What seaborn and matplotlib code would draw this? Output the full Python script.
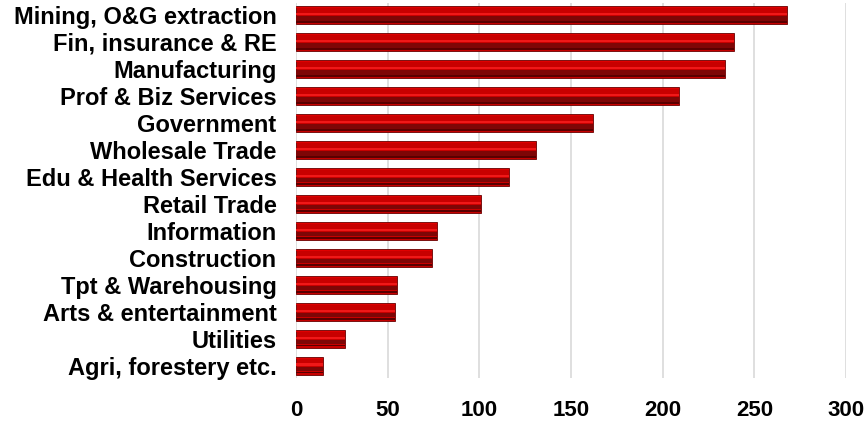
import numpy as np
import pandas as pd
import matplotlib.pyplot as plt
import seaborn as sns

sectors = ['Mining, O&G extraction', 'Fin, insurance & RE', 'Manufacturing',
           'Prof & Biz Services', 'Government', 'Wholesale Trade',
           'Edu & Health Services', 'Retail Trade', 'Information',
           'Construction', 'Tpt & Warehousing', 'Arts & entertainment',
           'Utilities', 'Agri, forestery etc.']
values = [268, 239, 234, 209, 162, 131, 116, 101, 77, 74, 55, 54, 27, 15]

df = pd.DataFrame({'sector': sectors, 'value': values})

sns.set_style('white')
plt.rcParams['font.family'] = ['Liberation Sans', 'DejaVu Sans']

fig = plt.figure(figsize=(8.67, 4.21), dpi=100)
ax = fig.add_axes([0.3414, 0.102, 0.6344, 0.891])

sns.barplot(data=df, x='value', y='sector', color='#c80000', width=0.66,
            saturation=1, edgecolor='#6a0000', linewidth=0.6, ax=ax, zorder=3)

# bevel shading on each bar
pos = np.arange(len(sectors))
vals = np.array(values, dtype=float)
ax.barh(pos + 0.13, vals, height=0.16, color='#7e0606', linewidth=0, zorder=4)
ax.barh(pos + 0.255, vals, height=0.07, color='#5a0000', linewidth=0, zorder=4)
ax.barh(pos - 0.04, vals, height=0.08, color='#f01818', linewidth=0, zorder=4)
ax.barh(pos - 0.27, vals, height=0.06, color='#e00000', linewidth=0, zorder=4)

ax.set_xlim(0, 300)
ax.set_ylim(13.46, -0.445)
ax.set_xticks([0, 50, 100, 150, 200, 250, 300])
ax.xaxis.grid(True, color='#d9d9d9', linewidth=1.2, zorder=0)
ax.set_axisbelow(True)
for s in ax.spines.values():
    s.set_visible(False)
ax.tick_params(axis='both', length=0, labelcolor='black')
ax.tick_params(axis='x', pad=16)
ax.tick_params(axis='y', pad=14)
ax.set_xlabel('')
ax.set_ylabel('')
for lab in ax.get_xticklabels():
    lab.set_fontweight('bold')
    lab.set_fontsize(16)
for lab in ax.get_yticklabels():
    lab.set_fontweight('bold')
    lab.set_fontsize(17)

fig.savefig('out.png', dpi=100)
